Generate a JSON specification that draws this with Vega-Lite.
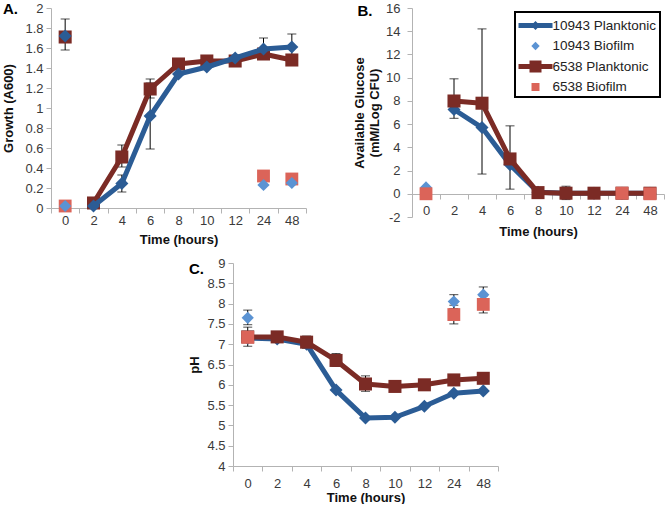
{
  "$schema": "https://vega.github.io/schema/vega-lite/v6.json",
  "background": "white",
  "padding": {"left": 2, "top": 1, "right": 0, "bottom": 0},
  "config": {
    "font": "Liberation Sans",
    "view": {"stroke": null},
    "axis": {
      "grid": false,
      "domainColor": "#b3b3b3",
      "tickColor": "#b3b3b3",
      "tickSize": 5,
      "labelOverlap": false,
      "labelFont": "Liberation Sans",
      "labelFontSize": 13,
      "labelColor": "#3a3a3a",
      "titleFont": "Liberation Sans",
      "titleFontSize": 13,
      "titleFontWeight": "bold",
      "titleColor": "#111111"
    },
    "title": {
      "font": "Liberation Sans",
      "fontSize": 15,
      "fontWeight": "bold",
      "color": "#000000",
      "anchor": "start",
      "frame": "bounds",
      "baseline": "middle",
      "offset": 0
    }
  },
  "datasets": {
    "growth": [
      {"hour": 0, "series": "10943 Planktonic", "value": 1.72},
      {"hour": 2, "series": "10943 Planktonic", "value": 0.02},
      {"hour": 4, "series": "10943 Planktonic", "value": 0.245},
      {"hour": 6, "series": "10943 Planktonic", "value": 0.92},
      {"hour": 8, "series": "10943 Planktonic", "value": 1.34},
      {"hour": 10, "series": "10943 Planktonic", "value": 1.41},
      {"hour": 12, "series": "10943 Planktonic", "value": 1.5},
      {"hour": 24, "series": "10943 Planktonic", "value": 1.59},
      {"hour": 48, "series": "10943 Planktonic", "value": 1.61},
      {"hour": 0, "series": "6538 Planktonic", "value": 1.71},
      {"hour": 2, "series": "6538 Planktonic", "value": 0.05},
      {"hour": 4, "series": "6538 Planktonic", "value": 0.51},
      {"hour": 6, "series": "6538 Planktonic", "value": 1.19},
      {"hour": 8, "series": "6538 Planktonic", "value": 1.44},
      {"hour": 10, "series": "6538 Planktonic", "value": 1.47},
      {"hour": 12, "series": "6538 Planktonic", "value": 1.47},
      {"hour": 24, "series": "6538 Planktonic", "value": 1.54},
      {"hour": 48, "series": "6538 Planktonic", "value": 1.48},
      {"hour": 0, "series": "10943 Biofilm", "value": 0.02},
      {"hour": 24, "series": "10943 Biofilm", "value": 0.23},
      {"hour": 48, "series": "10943 Biofilm", "value": 0.25},
      {"hour": 0, "series": "6538 Biofilm", "value": 0.02},
      {"hour": 24, "series": "6538 Biofilm", "value": 0.32},
      {"hour": 48, "series": "6538 Biofilm", "value": 0.29}
    ],
    "growthErr": [
      {"hour": 0, "low": 1.58, "high": 1.89},
      {"hour": 4, "low": 0.41, "high": 0.63},
      {"hour": 4, "low": 0.16, "high": 0.33},
      {"hour": 6, "low": 1.1, "high": 1.29},
      {"hour": 6, "low": 0.59, "high": 1.25},
      {"hour": 8, "low": 1.39, "high": 1.49},
      {"hour": 24, "low": 1.49, "high": 1.7},
      {"hour": 48, "low": 1.48, "high": 1.74}
    ],
    "glucose": [
      {"hour": 2, "series": "10943 Planktonic", "value": 7.26},
      {"hour": 4, "series": "10943 Planktonic", "value": 5.7},
      {"hour": 6, "series": "10943 Planktonic", "value": 2.5},
      {"hour": 8, "series": "10943 Planktonic", "value": 0.13},
      {"hour": 10, "series": "10943 Planktonic", "value": 0.05},
      {"hour": 12, "series": "10943 Planktonic", "value": 0.05},
      {"hour": 24, "series": "10943 Planktonic", "value": 0.05},
      {"hour": 48, "series": "10943 Planktonic", "value": 0.05},
      {"hour": 2, "series": "6538 Planktonic", "value": 7.99},
      {"hour": 4, "series": "6538 Planktonic", "value": 7.8},
      {"hour": 6, "series": "6538 Planktonic", "value": 3.0},
      {"hour": 8, "series": "6538 Planktonic", "value": 0.1},
      {"hour": 10, "series": "6538 Planktonic", "value": 0.05},
      {"hour": 12, "series": "6538 Planktonic", "value": 0.05},
      {"hour": 24, "series": "6538 Planktonic", "value": 0.05},
      {"hour": 48, "series": "6538 Planktonic", "value": 0.05},
      {"hour": 0, "series": "10943 Biofilm", "value": 0.55},
      {"hour": 0, "series": "6538 Biofilm", "value": 0.0},
      {"hour": 24, "series": "6538 Biofilm", "value": 0.05},
      {"hour": 48, "series": "6538 Biofilm", "value": 0.0}
    ],
    "glucoseErr": [
      {"hour": 2, "low": 6.5, "high": 9.9},
      {"hour": 4, "low": 1.7, "high": 14.2},
      {"hour": 6, "low": 0.4, "high": 5.85},
      {"hour": 10, "low": -0.5, "high": 0.65}
    ],
    "ph": [
      {"hour": 0, "series": "10943 Planktonic", "value": 7.15},
      {"hour": 2, "series": "10943 Planktonic", "value": 7.13},
      {"hour": 4, "series": "10943 Planktonic", "value": 7.0},
      {"hour": 6, "series": "10943 Planktonic", "value": 5.87},
      {"hour": 8, "series": "10943 Planktonic", "value": 5.18},
      {"hour": 10, "series": "10943 Planktonic", "value": 5.2},
      {"hour": 12, "series": "10943 Planktonic", "value": 5.47},
      {"hour": 24, "series": "10943 Planktonic", "value": 5.79},
      {"hour": 48, "series": "10943 Planktonic", "value": 5.85},
      {"hour": 0, "series": "6538 Planktonic", "value": 7.18},
      {"hour": 2, "series": "6538 Planktonic", "value": 7.18},
      {"hour": 4, "series": "6538 Planktonic", "value": 7.05},
      {"hour": 6, "series": "6538 Planktonic", "value": 6.6},
      {"hour": 8, "series": "6538 Planktonic", "value": 6.02},
      {"hour": 10, "series": "6538 Planktonic", "value": 5.96},
      {"hour": 12, "series": "6538 Planktonic", "value": 6.0},
      {"hour": 24, "series": "6538 Planktonic", "value": 6.12},
      {"hour": 48, "series": "6538 Planktonic", "value": 6.16},
      {"hour": 0, "series": "10943 Biofilm", "value": 7.65},
      {"hour": 24, "series": "10943 Biofilm", "value": 8.05},
      {"hour": 48, "series": "10943 Biofilm", "value": 8.22},
      {"hour": 0, "series": "6538 Biofilm", "value": 7.17},
      {"hour": 24, "series": "6538 Biofilm", "value": 7.73},
      {"hour": 48, "series": "6538 Biofilm", "value": 7.98}
    ],
    "phErr": [
      {"hour": 0, "low": 7.48, "high": 7.84},
      {"hour": 0, "low": 6.95, "high": 7.42},
      {"hour": 4, "low": 6.9, "high": 7.2},
      {"hour": 6, "low": 6.45, "high": 6.77},
      {"hour": 8, "low": 5.84, "high": 6.22},
      {"hour": 24, "low": 7.88, "high": 8.22},
      {"hour": 24, "low": 7.5, "high": 7.96},
      {"hour": 48, "low": 8.03, "high": 8.41},
      {"hour": 48, "low": 7.77, "high": 8.19}
    ]
  },
  "spacing": 11,
  "resolve": {
    "scale": {"color": "independent", "shape": "independent"},
    "legend": {"color": "independent", "shape": "independent"}
  },
  "vconcat": [
    {
      "spacing": 46,
      "resolve": {
        "scale": {"color": "independent", "shape": "independent"},
        "legend": {"color": "independent", "shape": "independent"}
      },
      "hconcat": [
        {
          "width": 255,
          "height": 200,
          "title": {"text": "A.", "dy": 18.5},
          "data": {"name": "growth"},
          "encoding": {
            "x": {
              "field": "hour", "type": "ordinal", "bandPosition": 0.5,
              "scale": {"type": "band", "paddingInner": 0, "paddingOuter": 0, "domain": [0, 2, 4, 6, 8, 10, 12, 24, 48]},
              "axis": {"title": "Time (hours)", "labelAngle": 0, "tickBand": "extent", "labelPadding": 1, "titlePadding": 6}
            }
          },
          "layer": [
            {
              "data": {"name": "growthErr"},
              "mark": {"type": "rule", "color": "#000000", "strokeWidth": 1},
              "encoding": {
                "y": {
                  "field": "low", "type": "quantitative",
                  "scale": {"domain": [0, 2], "nice": false, "zero": false},
                  "axis": {"title": "Growth (A600)", "values": [0, 0.2, 0.4, 0.6, 0.8, 1, 1.2, 1.4, 1.6, 1.8, 2], "tickCount": 30, "format": ".1~f", "labelOverlap": false, "labelPadding": 3, "titlePadding": 9}
                },
                "y2": {"field": "high"}
              }
            },
            {
              "data": {"name": "growthErr"},
              "mark": {"type": "tick", "orient": "horizontal", "size": 9, "thickness": 1, "color": "#000000"},
              "encoding": {"y": {"field": "low", "type": "quantitative"}}
            },
            {
              "data": {"name": "growthErr"},
              "mark": {"type": "tick", "orient": "horizontal", "size": 9, "thickness": 1, "color": "#000000"},
              "encoding": {"y": {"field": "high", "type": "quantitative"}}
            },
            {
              "transform": [{"filter": "datum.series === '6538 Planktonic' && datum.hour > 0"}],
              "mark": {"type": "line", "color": "#7b2b25", "strokeWidth": 5, "strokeJoin": "round", "strokeCap": "round"},
              "encoding": {"y": {"field": "value", "type": "quantitative"}}
            },
            {
              "transform": [{"filter": "datum.series === '6538 Planktonic'"}],
              "mark": {"type": "point", "shape": "square", "filled": true, "size": 170, "color": "#7b2b25", "opacity": 1},
              "encoding": {"y": {"field": "value", "type": "quantitative"}}
            },
            {
              "transform": [{"filter": "datum.series === '6538 Biofilm'"}],
              "mark": {"type": "point", "shape": "square", "filled": true, "size": 165, "color": "#db6459", "opacity": 1},
              "encoding": {"y": {"field": "value", "type": "quantitative"}}
            },
            {
              "transform": [{"filter": "datum.series === '10943 Planktonic' && datum.hour > 0"}],
              "mark": {"type": "line", "color": "#2b5c95", "strokeWidth": 5, "strokeJoin": "round", "strokeCap": "round"},
              "encoding": {"y": {"field": "value", "type": "quantitative"}}
            },
            {
              "transform": [{"filter": "datum.series === '10943 Planktonic'"}],
              "mark": {"type": "point", "shape": "diamond", "filled": true, "size": 170, "color": "#2b5c95", "opacity": 1},
              "encoding": {"y": {"field": "value", "type": "quantitative"}}
            },
            {
              "transform": [{"filter": "datum.series === '10943 Biofilm'"}],
              "mark": {"type": "point", "shape": "diamond", "filled": true, "size": 150, "color": "#5b93d3", "opacity": 1},
              "encoding": {"y": {"field": "value", "type": "quantitative"}}
            }
          ]
        },
        {
          "width": 252,
          "height": 209,
          "title": {"text": "B.", "dy": 21, "dx": 4},
          "data": {"name": "glucose"},
          "encoding": {
            "x": {
              "field": "hour", "type": "ordinal", "bandPosition": 0.5,
              "scale": {"type": "band", "paddingInner": 0, "paddingOuter": 0, "domain": [0, 2, 4, 6, 8, 10, 12, 24, 48]},
              "axis": {"title": "Time (hours)", "labelAngle": 0, "tickBand": "extent", "offset": -23, "labelPadding": 5, "titlePadding": 8}
            }
          },
          "layer": [
            {
              "data": {"name": "glucoseErr"},
              "mark": {"type": "rule", "color": "#000000", "strokeWidth": 1},
              "encoding": {
                "y": {
                  "field": "low", "type": "quantitative",
                  "scale": {"domain": [-2, 16], "nice": false, "zero": false},
                  "axis": {"title": ["Available Glucose", "(mM/Log CFU)"], "titleLineHeight": 15, "values": [-2, 0, 2, 4, 6, 8, 10, 12, 14, 16], "tickCount": 30, "format": "d", "labelExpr": "replace(datum.label, '\u2212', '-')", "labelOverlap": false, "labelPadding": 7, "titlePadding": 4}
                },
                "y2": {"field": "high"}
              }
            },
            {
              "data": {"name": "glucoseErr"},
              "mark": {"type": "tick", "orient": "horizontal", "size": 9, "thickness": 1, "color": "#000000"},
              "encoding": {"y": {"field": "low", "type": "quantitative"}}
            },
            {
              "data": {"name": "glucoseErr"},
              "mark": {"type": "tick", "orient": "horizontal", "size": 9, "thickness": 1, "color": "#000000"},
              "encoding": {"y": {"field": "high", "type": "quantitative"}}
            },
            {
              "transform": [{"filter": "datum.series === '10943 Planktonic'"}],
              "mark": {"type": "line", "color": "#2b5c95", "strokeWidth": 5, "strokeJoin": "round", "strokeCap": "round"},
              "encoding": {"y": {"field": "value", "type": "quantitative"}}
            },
            {
              "transform": [{"filter": "datum.series === '10943 Planktonic'"}],
              "mark": {"type": "point", "shape": "diamond", "filled": true, "size": 170, "color": "#2b5c95", "opacity": 1},
              "encoding": {"y": {"field": "value", "type": "quantitative"}}
            },
            {
              "transform": [{"filter": "datum.series === '10943 Biofilm'"}],
              "mark": {"type": "point", "shape": "diamond", "filled": true, "size": 150, "color": "#5b93d3", "opacity": 1},
              "encoding": {"y": {"field": "value", "type": "quantitative"}}
            },
            {
              "transform": [{"filter": "datum.series === '6538 Planktonic'"}],
              "mark": {"type": "line", "color": "#7b2b25", "strokeWidth": 5, "strokeJoin": "round", "strokeCap": "round"},
              "encoding": {"y": {"field": "value", "type": "quantitative"}}
            },
            {
              "transform": [{"filter": "datum.series === '6538 Planktonic'"}],
              "mark": {"type": "point", "shape": "square", "filled": true, "size": 170, "color": "#7b2b25", "opacity": 1},
              "encoding": {"y": {"field": "value", "type": "quantitative"}}
            },
            {
              "transform": [{"filter": "datum.series === '6538 Biofilm'"}],
              "mark": {"type": "point", "shape": "square", "filled": true, "size": 165, "color": "#db6459", "opacity": 1},
              "encoding": {"y": {"field": "value", "type": "quantitative"}}
            },
            {
              "mark": {"type": "point", "filled": true, "opacity": 0},
              "encoding": {
                "y": {"field": "value", "type": "quantitative"},
                "color": {
                  "field": "series", "type": "nominal",
                  "scale": {
                    "domain": ["10943 Planktonic", "10943 Biofilm", "6538 Planktonic", "6538 Biofilm"],
                    "range": ["#2b5c95", "#5b93d3", "#7b2b25", "#db6459"]
                  },
                  "legend": {
                    "title": null,
                    "orient": "top-right",
                    "offset": 4,
                    "padding": 3.5,
                    "symbolSize": 400,
                    "symbolOffset": 7,
                    "symbolOpacity": 1,
                    "symbolStrokeWidth": 0,
                    "labelOffset": 7,
                    "rowPadding": 3.5,
                    "labelFont": "Liberation Sans",
                    "labelFontSize": 13.5,
                    "labelColor": "#222222",
                    "labelLimit": 200,
                    "strokeColor": "#000000",
                    "fillColor": "#ffffff",
                    "encode": {"legend": {"update": {"strokeWidth": {"value": 2}}}}
                  }
                },
                "shape": {
                  "field": "series", "type": "nominal",
                  "scale": {
                    "domain": ["10943 Planktonic", "10943 Biofilm", "6538 Planktonic", "6538 Biofilm"],
                    "range": [
                      "M-1.7,-0.25L1.7,-0.25L1.7,0.25L-1.7,0.25Z M0,-0.45L0.45,0L0,0.45L-0.45,0Z",
                      "M0,-0.42L0.42,0L0,0.42L-0.42,0Z",
                      "M-1.7,-0.25L1.7,-0.25L1.7,0.25L-1.7,0.25Z M-0.6,-0.6L0.6,-0.6L0.6,0.6L-0.6,0.6Z",
                      "M-0.4,-0.4L0.4,-0.4L0.4,0.4L-0.4,0.4Z"
                    ]
                  },
                  "legend": {
                    "title": null,
                    "orient": "top-right",
                    "offset": 4,
                    "padding": 3.5,
                    "symbolSize": 400,
                    "symbolOffset": 7,
                    "symbolOpacity": 1,
                    "symbolStrokeWidth": 0,
                    "labelOffset": 7,
                    "rowPadding": 3.5,
                    "labelFont": "Liberation Sans",
                    "labelFontSize": 13.5,
                    "labelColor": "#222222",
                    "labelLimit": 200,
                    "strokeColor": "#000000",
                    "fillColor": "#ffffff",
                    "encode": {"legend": {"update": {"strokeWidth": {"value": 2}}}}
                  }
                }
              }
            }
          ]
        }
      ]
    },
    {
      "spacing": 0,
      "hconcat": [
        {
          "width": 137,
          "height": 10,
          "data": {"values": []},
          "mark": {"type": "point", "opacity": 0},
          "encoding": {}
        },
        {
          "width": 265,
          "height": 203,
          "title": {"text": "C.", "dy": 23.5},
          "data": {"name": "ph"},
          "encoding": {
            "x": {
              "field": "hour", "type": "ordinal", "bandPosition": 0.5,
              "scale": {"type": "band", "paddingInner": 0, "paddingOuter": 0, "domain": [0, 2, 4, 6, 8, 10, 12, 24, 48]},
              "axis": {"title": "Time (hours)", "labelAngle": 0, "tickBand": "extent", "labelPadding": 6, "titlePadding": 1}
            }
          },
          "layer": [
            {
              "data": {"name": "phErr"},
              "mark": {"type": "rule", "color": "#000000", "strokeWidth": 1},
              "encoding": {
                "y": {
                  "field": "low", "type": "quantitative",
                  "scale": {"domain": [4, 9], "nice": false, "zero": false},
                  "axis": {"title": "pH", "values": [4, 4.5, 5, 5.5, 6, 6.5, 7, 7.5, 8, 8.5, 9], "tickCount": 30, "format": ".1~f", "labelOverlap": false, "labelPadding": 3, "titlePadding": 5}
                },
                "y2": {"field": "high"}
              }
            },
            {
              "data": {"name": "phErr"},
              "mark": {"type": "tick", "orient": "horizontal", "size": 9, "thickness": 1, "color": "#000000"},
              "encoding": {"y": {"field": "low", "type": "quantitative"}}
            },
            {
              "data": {"name": "phErr"},
              "mark": {"type": "tick", "orient": "horizontal", "size": 9, "thickness": 1, "color": "#000000"},
              "encoding": {"y": {"field": "high", "type": "quantitative"}}
            },
            {
              "transform": [{"filter": "datum.series === '10943 Planktonic'"}],
              "mark": {"type": "line", "color": "#2b5c95", "strokeWidth": 5, "strokeJoin": "round", "strokeCap": "round"},
              "encoding": {"y": {"field": "value", "type": "quantitative"}}
            },
            {
              "transform": [{"filter": "datum.series === '10943 Planktonic'"}],
              "mark": {"type": "point", "shape": "diamond", "filled": true, "size": 170, "color": "#2b5c95", "opacity": 1},
              "encoding": {"y": {"field": "value", "type": "quantitative"}}
            },
            {
              "transform": [{"filter": "datum.series === '10943 Biofilm'"}],
              "mark": {"type": "point", "shape": "diamond", "filled": true, "size": 150, "color": "#5b93d3", "opacity": 1},
              "encoding": {"y": {"field": "value", "type": "quantitative"}}
            },
            {
              "transform": [{"filter": "datum.series === '6538 Planktonic'"}],
              "mark": {"type": "line", "color": "#7b2b25", "strokeWidth": 5, "strokeJoin": "round", "strokeCap": "round"},
              "encoding": {"y": {"field": "value", "type": "quantitative"}}
            },
            {
              "transform": [{"filter": "datum.series === '6538 Planktonic'"}],
              "mark": {"type": "point", "shape": "square", "filled": true, "size": 170, "color": "#7b2b25", "opacity": 1},
              "encoding": {"y": {"field": "value", "type": "quantitative"}}
            },
            {
              "transform": [{"filter": "datum.series === '6538 Biofilm'"}],
              "mark": {"type": "point", "shape": "square", "filled": true, "size": 165, "color": "#db6459", "opacity": 1},
              "encoding": {"y": {"field": "value", "type": "quantitative"}}
            }
          ]
        }
      ]
    }
  ]
}
